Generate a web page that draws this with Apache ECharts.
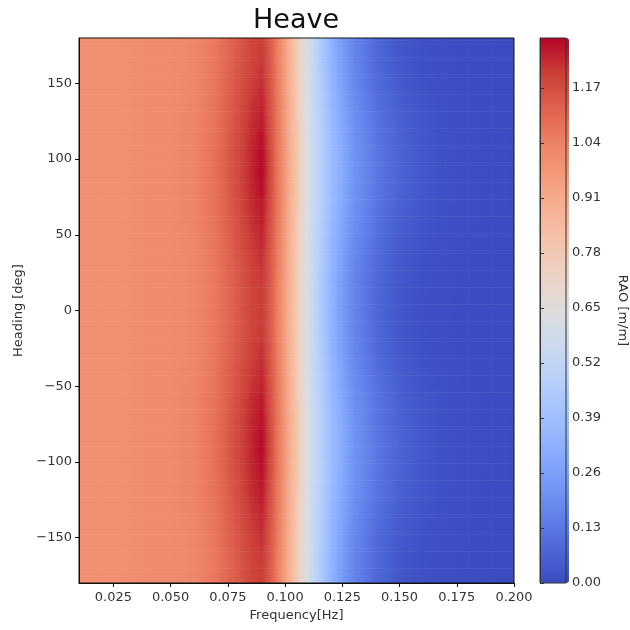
<!DOCTYPE html>
<html><head><meta charset="utf-8">
<script src="https://cdn.jsdelivr.net/npm/echarts@6/dist/echarts.min.js"></script>
<style>html,body{margin:0;padding:0;background:#fff}#c{width:630px;height:630px}</style>
</head><body><div id="c"></div>
<script>
// ---- data ----
const frequencies = [0.01,0.02,0.03,0.04,0.05,0.06,0.07,0.075,0.08,0.085,0.09,0.095,0.1,0.105,0.11,0.115,0.12,0.125,0.13,0.14,0.15,0.16,0.17,0.18,0.19,0.2];
const headings = [-180,-165,-150,-135,-120,-105,-90,-75,-60,-45,-30,-15,0,15,30,45,60,75,90,105,120,135,150,165,180];
const raoRows = [
 [1.00,1.00,1.00,1.01,1.01,1.02,1.07,1.11,1.15,1.19,1.21,1.10,0.95,0.78,0.60,0.46,0.34,0.24,0.17,0.08,0.03,0.012,0.005,0.002,0.001,0.000],
 [1.00,1.00,1.00,1.01,1.01,1.02,1.07,1.11,1.15,1.19,1.215,1.10,0.95,0.78,0.60,0.46,0.34,0.245,0.175,0.085,0.033,0.013,0.006,0.002,0.001,0.000],
 [1.00,1.00,1.00,1.01,1.01,1.02,1.075,1.12,1.16,1.20,1.23,1.11,0.955,0.785,0.605,0.47,0.35,0.255,0.18,0.09,0.04,0.018,0.008,0.003,0.001,0.000],
 [1.00,1.00,1.00,1.01,1.01,1.025,1.08,1.125,1.17,1.215,1.245,1.115,0.96,0.79,0.61,0.475,0.36,0.27,0.195,0.105,0.05,0.024,0.010,0.005,0.002,0.001],
 [1.00,1.00,1.00,1.01,1.01,1.03,1.085,1.13,1.18,1.23,1.26,1.12,0.965,0.795,0.615,0.48,0.37,0.285,0.21,0.12,0.06,0.029,0.012,0.006,0.002,0.001],
 [1.00,1.00,1.00,1.01,1.01,1.03,1.09,1.14,1.19,1.235,1.275,1.13,0.97,0.80,0.62,0.49,0.38,0.295,0.215,0.125,0.067,0.033,0.014,0.007,0.003,0.001],
 [1.00,1.00,1.00,1.01,1.01,1.03,1.09,1.14,1.19,1.24,1.285,1.13,0.97,0.80,0.62,0.49,0.38,0.30,0.22,0.13,0.07,0.035,0.015,0.007,0.003,0.001],
 [1.00,1.00,1.00,1.01,1.01,1.03,1.09,1.14,1.19,1.235,1.275,1.13,0.97,0.80,0.62,0.49,0.38,0.295,0.215,0.125,0.067,0.033,0.014,0.007,0.003,0.001],
 [1.00,1.00,1.00,1.01,1.01,1.03,1.085,1.13,1.18,1.23,1.26,1.12,0.965,0.795,0.615,0.48,0.37,0.285,0.21,0.12,0.06,0.029,0.012,0.006,0.002,0.001],
 [1.00,1.00,1.00,1.01,1.01,1.025,1.08,1.125,1.17,1.215,1.245,1.115,0.96,0.79,0.61,0.475,0.36,0.27,0.195,0.105,0.05,0.024,0.010,0.005,0.002,0.001],
 [1.00,1.00,1.00,1.01,1.01,1.02,1.075,1.12,1.16,1.20,1.23,1.11,0.955,0.785,0.605,0.47,0.35,0.255,0.18,0.09,0.04,0.018,0.008,0.003,0.001,0.000],
 [1.00,1.00,1.00,1.01,1.01,1.02,1.07,1.11,1.15,1.19,1.215,1.10,0.95,0.78,0.60,0.46,0.34,0.245,0.175,0.085,0.033,0.013,0.006,0.002,0.001,0.000],
 [1.00,1.00,1.00,1.01,1.01,1.02,1.07,1.11,1.15,1.19,1.21,1.10,0.95,0.78,0.60,0.46,0.34,0.24,0.17,0.08,0.03,0.012,0.005,0.002,0.001,0.000],
 [1.00,1.00,1.00,1.01,1.01,1.02,1.07,1.11,1.15,1.19,1.212,1.10,0.95,0.78,0.60,0.46,0.34,0.243,0.173,0.083,0.032,0.013,0.005,0.002,0.001,0.000],
 [1.00,1.00,1.00,1.01,1.01,1.02,1.073,1.115,1.155,1.20,1.225,1.105,0.953,0.783,0.603,0.467,0.347,0.252,0.178,0.088,0.038,0.016,0.007,0.003,0.001,0.000],
 [1.00,1.00,1.00,1.01,1.01,1.023,1.078,1.123,1.167,1.21,1.24,1.113,0.958,0.788,0.608,0.473,0.357,0.265,0.19,0.10,0.047,0.022,0.009,0.004,0.002,0.001],
 [1.00,1.00,1.00,1.01,1.01,1.028,1.083,1.13,1.177,1.225,1.255,1.12,0.963,0.793,0.613,0.478,0.367,0.28,0.205,0.115,0.057,0.027,0.011,0.005,0.002,0.001],
 [1.00,1.00,1.00,1.01,1.01,1.03,1.088,1.137,1.187,1.233,1.27,1.128,0.968,0.798,0.618,0.488,0.377,0.292,0.213,0.123,0.065,0.032,0.013,0.006,0.003,0.001],
 [1.00,1.00,1.00,1.01,1.01,1.03,1.09,1.14,1.19,1.24,1.288,1.13,0.97,0.80,0.62,0.49,0.38,0.30,0.22,0.13,0.07,0.035,0.015,0.007,0.003,0.001],
 [1.00,1.00,1.00,1.01,1.01,1.03,1.09,1.14,1.19,1.238,1.282,1.13,0.97,0.80,0.62,0.49,0.38,0.298,0.218,0.128,0.069,0.034,0.015,0.007,0.003,0.001],
 [1.00,1.00,1.00,1.01,1.01,1.03,1.085,1.133,1.182,1.23,1.265,1.123,0.966,0.796,0.616,0.482,0.372,0.287,0.211,0.121,0.062,0.030,0.012,0.006,0.002,0.001],
 [1.00,1.00,1.00,1.01,1.01,1.025,1.08,1.127,1.172,1.218,1.25,1.117,0.961,0.791,0.611,0.476,0.362,0.272,0.197,0.107,0.052,0.025,0.010,0.005,0.002,0.001],
 [1.00,1.00,1.00,1.01,1.01,1.021,1.076,1.121,1.162,1.203,1.233,1.112,0.956,0.786,0.606,0.471,0.352,0.258,0.183,0.093,0.042,0.019,0.008,0.003,0.001,0.000],
 [1.00,1.00,1.00,1.01,1.01,1.02,1.071,1.112,1.152,1.192,1.217,1.101,0.951,0.781,0.601,0.461,0.341,0.246,0.176,0.086,0.034,0.014,0.006,0.002,0.001,0.000],
 [1.00,1.00,1.00,1.01,1.01,1.02,1.07,1.11,1.15,1.19,1.21,1.10,0.95,0.78,0.60,0.46,0.34,0.24,0.17,0.08,0.03,0.012,0.005,0.002,0.001,0.000]
];
const xTicks = [0.025,0.05,0.075,0.1,0.125,0.15,0.175,0.2];
const yTicks = [-150,-100,-50,0,50,100,150];
const cbarTicks = [0,0.13,0.26,0.39,0.52,0.65,0.78,0.91,1.04,1.17];
const cbarRange = [0, 1.288];
const coolwarm = ['#3b4cc0','#4d68d7','#6282ea','#779af7','#8db0fe','#a3c2ff','#b8d0f9','#ccd9ee','#dddddd','#ecd3c5','#f5c4ac','#f7b194','#f49a7b','#ec7f63','#de604d','#cb3e38','#b40426'];

// ---- colour mapping (same stops as the visualMap) ----
function hexRgb(h){return [parseInt(h.substr(1,2),16),parseInt(h.substr(3,2),16),parseInt(h.substr(5,2),16)];}
const stopsRgb = coolwarm.map(hexRgb);
function cmap(v){
  let t=(v-cbarRange[0])/(cbarRange[1]-cbarRange[0]); t=Math.max(0,Math.min(1,t));
  const n=stopsRgb.length-1, s=t*n, i=Math.min(n-1,Math.floor(s)), u=s-i;
  const a=stopsRgb[i], b=stopsRgb[i+1];
  return 'rgb('+Math.round(a[0]+(b[0]-a[0])*u)+','+Math.round(a[1]+(b[1]-a[1])*u)+','+Math.round(a[2]+(b[2]-a[2])*u)+')';
}

// one mesh quad per pair of neighbouring grid nodes (shaded like a gouraud pcolormesh)
const cells = [];
for (let j=0;j<headings.length-1;j++) for (let i=0;i<frequencies.length-1;i++)
  cells.push([frequencies[i], headings[j], raoRows[j][i], frequencies[i+1], raoRows[j][i+1],
              headings[j+1], raoRows[j+1][i], raoRows[j+1][i+1], i, j]);

const FONT = 'DejaVu Sans';
const minus = v => v<0 ? '\u2212'+(-v) : String(v);
const STRIPS = 8, GSTOPS = 6;

const chart = echarts.init(document.getElementById('c'), null, {renderer:'canvas'});
chart.setOption({
  animation:false,
  backgroundColor:'#fff',
  title:{text:'Heave', left:253, top:7, padding:0, textStyle:{fontFamily:FONT, fontSize:27, fontWeight:'normal', color:'#111'}},
  grid:[
    {left:79, top:38, width:435, height:545, show:true, z:10, backgroundColor:'transparent', borderColor:'#111', borderWidth:1},
    {left:540, top:38, width:29, height:545, show:true, z:10, backgroundColor:'transparent', borderColor:'#333', borderWidth:1}
  ],
  xAxis:[
    {gridIndex:0, type:'value', min:0.01, max:0.2, z:11,
     axisLine:{show:true, onZero:false, lineStyle:{color:'#111'}},
     axisTick:{show:true, length:4, customValues:xTicks, lineStyle:{color:'#111'}},
     axisLabel:{customValues:xTicks, formatter:v=>v.toFixed(3), fontFamily:FONT, fontSize:13, color:'#333', margin:8},
     splitLine:{show:false},
     name:'Frequency[Hz]', nameLocation:'middle', nameGap:25, nameTextStyle:{fontFamily:FONT, fontSize:13, color:'#333'}},
    {gridIndex:1, type:'value', min:0, max:1, show:false}
  ],
  yAxis:[
    {gridIndex:0, type:'value', min:-180, max:180, z:11,
     axisLine:{show:true, onZero:false, lineStyle:{color:'#111'}},
     axisTick:{show:true, length:4, customValues:yTicks, lineStyle:{color:'#111'}},
     axisLabel:{customValues:yTicks, formatter:minus, fontFamily:FONT, fontSize:13, color:'#333', margin:7},
     splitLine:{show:false},
     name:'Heading [deg]', nameLocation:'middle', nameGap:48, nameRotate:90, nameTextStyle:{fontFamily:FONT, fontSize:13, color:'#333'}},
    {gridIndex:1, type:'value', min:cbarRange[0], max:cbarRange[1], position:'right', z:11,
     axisLine:{show:true, lineStyle:{color:'#333'}},
     axisTick:{show:true, length:4, customValues:cbarTicks, lineStyle:{color:'#333'}},
     axisLabel:{customValues:cbarTicks, formatter:v=>v.toFixed(2), fontFamily:FONT, fontSize:13, color:'#333', margin:6},
     splitLine:{show:false},
     name:'RAO [m/m]', nameLocation:'middle', nameGap:50, nameRotate:-90, nameTextStyle:{fontFamily:FONT, fontSize:13, color:'#333'}}
  ],
  visualMap:{
    type:'continuous', min:cbarRange[0], max:cbarRange[1], dimension:2, seriesIndex:0,
    orient:'vertical', left:540, top:38, itemWidth:29, itemHeight:545, padding:0,
    calculable:false, hoverLink:false, inRange:{color:coolwarm}
  },
  series:[{
    type:'custom', xAxisIndex:0, yAxisIndex:0, data:cells, encode:{x:0, y:1},
    renderItem:function(params, api){
      const f0=api.value(0), h0=api.value(1), a0=api.value(2), f1=api.value(3), a1=api.value(4),
            h1=api.value(5), b0=api.value(6), b1=api.value(7), i=api.value(8);
      const lastCol = i >= frequencies.length-2;
      const children=[];
      for (let s=0;s<STRIPS;s++){
        const ta=s/STRIPS, tb=(s+1)/STRIPS, tm=(s+0.5)/STRIPS;
        const pTop = api.coord([f0, h0+(h1-h0)*tb]);
        const pBot = api.coord([f1, h0+(h1-h0)*ta]);
        const l = a0+(b0-a0)*tm, r = a1+(b1-a1)*tm;
        const stops=[];
        for (let k=0;k<=GSTOPS;k++){const t=k/GSTOPS; stops.push({offset:t, color:cmap(l+(r-l)*t)});}
        const ow = lastCol ? 0 : 0.6;
        const topEdge = (h0+(h1-h0)*tb) >= 180;
        const oy = topEdge ? 0 : 0.6;
        children.push({type:'rect', shape:{x:pTop[0], y:pTop[1]-oy, width:pBot[0]-pTop[0]+ow, height:pBot[1]-pTop[1]+oy},
          style:{fill:new echarts.graphic.LinearGradient(0,0,1,0,stops)}, silent:true});
      }
      return {type:'group', children:children};
    }
  }]
});
</script>
</body></html>
